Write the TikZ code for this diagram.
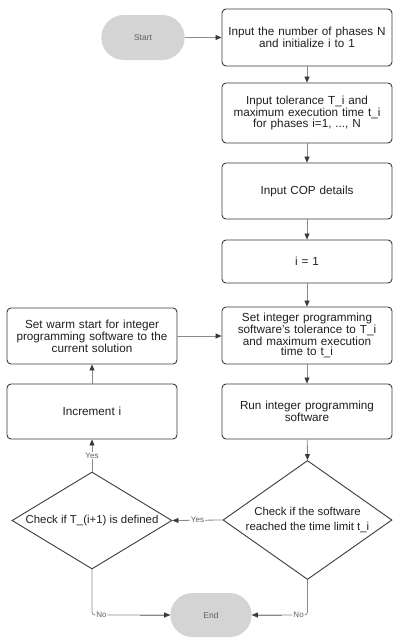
\documentclass[tikz,border=0pt]{standalone}
\usepackage{fontspec}
\setmainfont{Liberation Sans}
\usetikzlibrary{shapes.geometric,shapes.misc,arrows.meta}
\definecolor{edgecol}{HTML}{3A3A3A}
\definecolor{conncol}{HTML}{8A8A8A}
\definecolor{termcol}{HTML}{D4D4D4}
\definecolor{txtcol}{HTML}{1E1E1E}
\definecolor{lblcol}{HTML}{606060}
\tikzset{
  box/.style={draw=edgecol, line width=0.9pt, rounded corners=4pt, minimum width=170pt, text width=168pt, align=center, inner sep=0pt, text=txtcol, font=\fontsize{11.7}{10.6}\selectfont},
  termbox/.style={fill=termcol, rounded rectangle, minimum width=90pt, minimum height=45pt, text=lblcol, font=\fontsize{8.5}{10}\selectfont},
  dia/.style={draw=edgecol, line width=0.9pt, diamond, inner sep=0pt},
  dtext/.style={align=center, text=txtcol, inner sep=0pt, font=\fontsize{11.4}{14.5}\selectfont},
  conn/.style={draw=conncol, line width=0.8pt, -{Triangle[length=6pt,width=5pt,fill=edgecol,color=edgecol]}},
  plain/.style={draw=conncol, line width=0.8pt, rounded corners=3pt},
  lab/.style={fill=white, inner sep=1pt, text=lblcol, font=\fontsize{8}{9}\selectfont}
}
\begin{document}
\begin{tikzpicture}[x=1pt,y=-1pt]
\useasboundingbox (0,0) rectangle (400,640);
\node[termbox] (start) at (143,37.5) {Start};
\node[box, minimum height=57pt] (b1) at (307,37.5) {Input the number of phases N\\and initialize i to 1};
\node[box, minimum height=60pt] (b2) at (307,113) {Input tolerance T\_i and\\maximum execution time t\_i\\for phases i=1, ..., N};
\node[box, minimum height=56pt] (b3) at (307,191) {Input COP details};
\node[box, minimum height=43pt] (b4) at (307,261.5) {i = 1};
\node[box, minimum height=57pt] (b5) at (307,335.5) {Set integer programming\\software's tolerance to T\_i\\and maximum execution\\time to t\_i};
\node[box, minimum height=55pt] (b6) at (307,411.5) {Run integer programming\\software};
\node[box, minimum height=56pt] (warm) at (92,336) {Set warm start for integer\\programming software to the\\current solution};
\node[box, minimum height=55pt] (inc) at (92,411.5) {Increment i};
\node[dia, minimum width=169pt, minimum height=119pt] (dr) at (307.5,520) {};
\node[dtext] (drt) at (dr.center) {Check if the software\\reached the time limit t\_i};
\node[dia, minimum width=160pt, minimum height=97pt] (dl) at (92,520.5) {};
\node[dtext] (dlt) at (dl.center) {Check if T\_(i+1) is defined};
\node[termbox, minimum width=88pt, minimum height=44pt] (end) at (211,615) {End};

\draw[conn] (start) -- (b1);
\draw[conn] (b1) -- (b2);
\draw[conn] (b2) -- (b3);
\draw[conn] (b3) -- (b4);
\draw[conn] (b4) -- (b5);
\draw[conn] (b5) -- (b6);
\draw[conn] (b6) -- (dr.north);
\draw[conn] (dr.west) -- node[lab, pos=0.5] {Yes} (dl.east);
\draw[conn] (dl.north) -- node[lab, pos=0.5] {Yes} (inc);
\draw[conn] (inc) -- (warm);
\draw[conn] (warm.east) -- (b5.west |- warm.east);
\draw[plain] (dl.south) |- node[lab, pos=0.56] {No} (end.west);
\draw[conn] ([xshift=-30pt]end.west) -- (end.west);
\draw[plain] (dr.south) |- node[lab, pos=0.58] {No} (end.east);
\draw[conn] ([xshift=30pt]end.east) -- (end.east);
\end{tikzpicture}
\end{document}
